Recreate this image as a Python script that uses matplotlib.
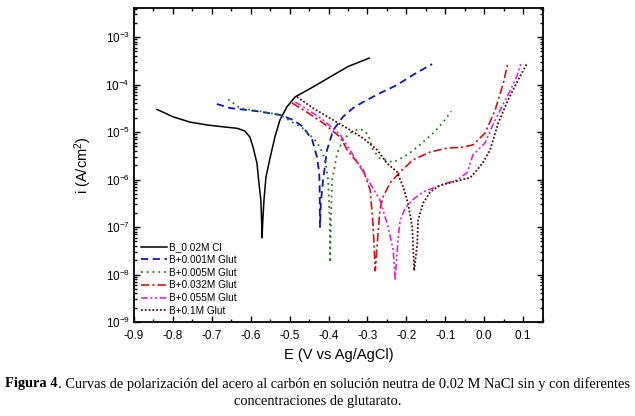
import matplotlib
matplotlib.use("Agg")
import matplotlib.pyplot as plt
from matplotlib.ticker import FixedLocator, LogLocator, NullFormatter, LogFormatterMathtext, MultipleLocator

plt.rcParams['font.family'] = ['Liberation Sans', 'DejaVu Sans']
plt.rcParams['mathtext.fontset'] = 'custom'
plt.rcParams['mathtext.rm'] = 'Liberation Sans'
plt.rcParams['mathtext.it'] = 'Liberation Sans:italic'
plt.rcParams['mathtext.bf'] = 'Liberation Sans:bold'
plt.rcParams['mathtext.default'] = 'regular'

# ---------------- data ----------------
labels = ["B_0.02M Cl", "B+0.001M Glut", "B+0.005M Glut",
          "B+0.032M Glut", "B+0.055M Glut", "B+0.1M Glut"]

E_cl = [-0.841, -0.800, -0.756, -0.712, -0.671, -0.635, -0.615, -0.602, -0.594,
        -0.584, -0.579, -0.574, -0.572, -0.571, -0.569, -0.566, -0.561, -0.550,
        -0.538, -0.525, -0.507, -0.486, -0.440, -0.396, -0.350, -0.296]
i_cl = [3.0e-5, 2.1e-5, 1.62e-5, 1.41e-5, 1.29e-5, 1.2e-5, 1.05e-5, 7.8e-6, 4.8e-6,
        2.2e-6, 8.5e-7, 3.7e-7, 1.3e-7, 5.9e-8, 1.4e-7, 3.7e-7, 1.12e-6, 2.95e-6,
        7.8e-6, 1.8e-5, 3.4e-5, 5.5e-5, 8.9e-5, 1.45e-4, 2.4e-4, 3.6e-4]

E_001 = [-0.687, -0.653, -0.584, -0.525, -0.491, -0.466, -0.442, -0.430, -0.424,
         -0.423, -0.422, -0.420, -0.414, -0.404, -0.388, -0.363, -0.337, -0.311,
         -0.268, -0.224, -0.183, -0.134]
i_001 = [3.9e-5, 3.2e-5, 2.75e-5, 2.3e-5, 1.8e-5, 1.3e-5, 6.8e-6, 3.0e-6, 1.4e-6,
         6.9e-7, 1.0e-7, 3.2e-7, 1.0e-6, 4.2e-6, 1.1e-5, 2.1e-5, 3.2e-5, 4.3e-5,
         6.6e-5, 9.8e-5, 1.6e-4, 2.7e-4]

E_005 = [-0.658, -0.628, -0.576, -0.525, -0.466, -0.435, -0.422, -0.409, -0.401,
         -0.397, -0.396, -0.394, -0.391, -0.378, -0.363, -0.345, -0.324, -0.311,
         -0.298, -0.286, -0.268, -0.234, -0.198, -0.165, -0.131, -0.106, -0.085]
i_005 = [4.9e-5, 3.2e-5, 2.75e-5, 2.3e-5, 1.2e-5, 6.8e-6, 4.8e-6, 2.6e-6, 9.8e-7,
         1.4e-7, 1.8e-8, 1.5e-7, 9.8e-7, 3.6e-6, 6.8e-6, 9.5e-6, 1.15e-5, 1.1e-5,
         8.7e-6, 4.2e-6, 2.8e-6, 2.3e-6, 3.3e-6, 5.4e-6, 9.5e-6, 1.6e-5, 2.75e-5]

E_032 = [-0.494, -0.455, -0.414, -0.370, -0.352, -0.311, -0.293, -0.286, -0.280,
         -0.273, -0.268, -0.260, -0.242, -0.216, -0.183, -0.139, -0.095, -0.054,
         -0.029, 0.002, 0.028, 0.049, 0.061]
i_032 = [4.1e-5, 2.6e-5, 1.55e-5, 7.8e-6, 4.2e-6, 1.6e-6, 6.0e-7, 1.2e-7, 1.2e-8,
         7.4e-8, 2.3e-7, 4.3e-7, 8.5e-7, 1.45e-6, 2.6e-6, 3.8e-6, 4.6e-6, 4.8e-6,
         5.4e-6, 9.5e-6, 2.9e-5, 1.07e-4, 2.9e-4]

E_055 = [-0.486, -0.460, -0.414, -0.370, -0.345, -0.311, -0.268, -0.247, -0.234,
         -0.229, -0.221, -0.216, -0.203, -0.185, -0.157, -0.113, -0.070, -0.044,
         -0.029, 0.002, 0.020, 0.041, 0.067, 0.085, 0.095]
i_055 = [4.3e-5, 3.2e-5, 1.8e-5, 8.7e-6, 4.2e-6, 1.45e-6, 3.7e-7, 1.0e-7, 3.3e-8,
         7.6e-9, 6.2e-8, 1.4e-7, 2.5e-7, 3.7e-7, 5.5e-7, 7.6e-7, 9.8e-7, 1.4e-6,
         3.3e-6, 5.9e-6, 1.3e-5, 2.9e-5, 7.6e-5, 1.6e-4, 2.95e-4]

E_01 = [-0.481, -0.440, -0.396, -0.352, -0.311, -0.275, -0.250, -0.224, -0.208,
        -0.196, -0.185, -0.180, -0.172, -0.170, -0.157, -0.139, -0.113, -0.080,
        -0.036, -0.018, -0.003, 0.015, 0.036, 0.061, 0.087, 0.110]
i_01 = [5.5e-5, 3.2e-5, 1.95e-5, 1.2e-5, 7.4e-6, 4.2e-6, 2.2e-6, 1.45e-6, 6.9e-7,
        3.2e-7, 1.0e-7, 1.2e-8, 4.6e-8, 1.4e-7, 3.2e-7, 5.5e-7, 7.6e-7, 8.9e-7,
        1.1e-6, 1.6e-6, 2.3e-6, 4.2e-6, 1.55e-5, 4.7e-5, 1.25e-4, 2.8e-4]

x_ticks = [-0.9, -0.8, -0.7, -0.6, -0.5, -0.4, -0.3, -0.2, -0.1, 0.0, 0.1]
x_tick_labels = ["-0.9", "-0.8", "-0.7", "-0.6", "-0.5", "-0.4", "-0.3",
                 "-0.2", "-0.1", "0.0", "0.1"]

caption_bold = "Figura 4"
caption_rest = (". Curvas de polarización del acero al carbón en solución neutra "
                "de 0.02 M NaCl sin y con diferentes")
caption_line2 = "concentraciones de glutarato."

# ---------------- figure ----------------
W, H = 635, 416
fig = plt.figure(figsize=(W / 100, H / 100), dpi=100)
ax = fig.add_axes([134 / W, 1 - 322 / H, (543 - 134) / W, (322 - 8) / H])

series = [
    (E_cl, i_cl, dict(color='black', lw=1.1, ls='-')),
    (E_001, i_001, dict(color='#1010c8', lw=1.3, ls=(0, (4, 2.5)))),
    (E_005, i_005, dict(color='#1e7a1e', lw=1.3, ls=(0, (1, 2.2)))),
    (E_032, i_032, dict(color='#d01010', lw=1.2, ls=(0, (5, 1.8, 1.3, 1.8)))),
    (E_055, i_055, dict(color='#e020e0', lw=1.2, ls=(0, (4, 1.6, 1.2, 1.6, 1.2, 1.6)))),
    (E_01, i_01, dict(color='#500808', lw=1.3, ls=(0, (1, 1.1)))),
]
for (E, cur, st), lab in zip(series, labels):
    ax.plot(E, cur, label=lab, **st)

ax.set_yscale('log')
ax.set_xlim(-0.9, 0.151)
ax.set_ylim(1e-9, 4.1e-3)

ax.xaxis.set_major_locator(FixedLocator(x_ticks))
ax.set_xticklabels(x_tick_labels)
ax.xaxis.set_minor_locator(MultipleLocator(0.05))
ax.yaxis.set_major_locator(LogLocator(base=10, numticks=20))
ax.yaxis.set_major_formatter(LogFormatterMathtext())
ax.yaxis.set_minor_locator(LogLocator(base=10, subs=[2, 3, 4, 5, 6, 7, 8, 9], numticks=20))
ax.yaxis.set_minor_formatter(NullFormatter())

ax.tick_params(which='both', direction='in', top=True, right=True, width=1.0)
ax.tick_params(which='major', length=4.5, labelsize=8.5)
ax.tick_params(axis='x', which='major', pad=6)
ax.tick_params(axis='y', which='major', pad=3)
ax.tick_params(which='minor', length=2.5)
for sp in ax.spines.values():
    sp.set_linewidth(1.3)

ax.set_xlabel("E (V vs Ag/AgCl)", fontsize=10.5, labelpad=4)
ax.set_ylabel("i (A/cm$^2$)", fontsize=10.5, labelpad=8)

leg = ax.legend(loc='lower left', bbox_to_anchor=(0.018, 0.02), frameon=False,
                fontsize=7.2, handlelength=2.6, handletextpad=0.2,
                labelspacing=0.27, borderpad=0.0, borderaxespad=0.0)

# ---------------- caption ----------------
renderer = fig.canvas.get_renderer()
serif = ['Liberation Serif', 'DejaVu Serif']
size = 10.0
tb = fig.text(0, 0, caption_bold, fontsize=size, fontweight='bold', family=serif)
tr = fig.text(0, 0, caption_rest, fontsize=size, family=serif)
wb = tb.get_window_extent(renderer).width
wr = tr.get_window_extent(renderer).width
scale = 625.0 / (wb + wr)
size2 = size * scale
tb.set_fontsize(size2)
tr.set_fontsize(size2)
wb = tb.get_window_extent(renderer).width
wr = tr.get_window_extent(renderer).width
x0 = (W - (wb + wr)) / 2
y1 = 1 - 384 / H
tb.set_position((x0 / W, y1))
tb.set_va('center')
tr.set_position(((x0 + wb) / W, y1))
tr.set_va('center')
fig.text(0.5, 1 - 401 / H, caption_line2, fontsize=size2, family=serif,
         ha='center', va='center')

fig.savefig("out.png", dpi=100)
